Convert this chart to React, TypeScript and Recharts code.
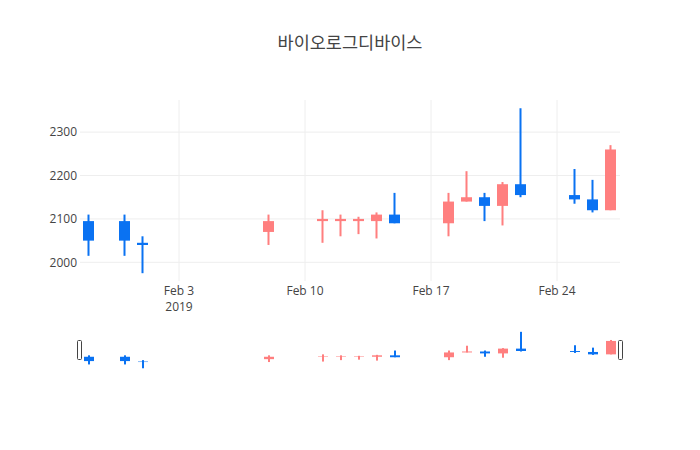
import React from 'react';
import { ComposedChart, Bar, XAxis, YAxis, CartesianGrid, Cell } from 'recharts';

const title = '바이오로그디바이스';

const dates = [
  '2019-01-29', '2019-01-31', '2019-02-01', '2019-02-08', '2019-02-11', '2019-02-12',
  '2019-02-13', '2019-02-14', '2019-02-15', '2019-02-18', '2019-02-19', '2019-02-20',
  '2019-02-21', '2019-02-22', '2019-02-25', '2019-02-26', '2019-02-27',
];
const opens = [2095, 2095, 2045, 2070, 2095, 2095, 2095, 2095, 2110, 2090, 2140, 2150, 2130, 2180, 2155, 2145, 2120];
const highs = [2110, 2110, 2060, 2110, 2120, 2110, 2105, 2115, 2160, 2160, 2210, 2160, 2185, 2355, 2215, 2190, 2270];
const lows = [2015, 2015, 1975, 2040, 2045, 2060, 2065, 2055, 2090, 2060, 2140, 2095, 2085, 2150, 2135, 2115, 2120];
const closes = [2050, 2050, 2040, 2095, 2100, 2100, 2100, 2110, 2090, 2140, 2150, 2130, 2180, 2155, 2145, 2120, 2260];

const xTickDates = ['2019-02-03', '2019-02-10', '2019-02-17', '2019-02-24'];
const xTickLabels = ['Feb 3', 'Feb 10', 'Feb 17', 'Feb 24'];
const xTickSubLabels = ['2019', '', '', ''];
const yTicks = [2000, 2100, 2200, 2300];
const yDomain = [1957, 2374];

const UP = '#FF7F7F';
const DOWN = '#0A72F2';
const FONT = '"Open Sans", "Noto Sans CJK KR", sans-serif';

const toDay = (s: string) => Date.parse(s + 'T00:00:00Z') / 86400000;

const data = dates.map((d, i) => ({
  t: toDay(d),
  wick: [lows[i], highs[i]],
  body: [Math.min(opens[i], closes[i]), Math.max(opens[i], closes[i])],
  up: closes[i] > opens[i],
}));

const xDomain = [toDay(dates[0]) - 0.5, toDay(dates[dates.length - 1]) + 0.5];
const xTickValues = xTickDates.map(toDay);

const WickShape = (props: any) => {
  const { x, y, width, height, payload } = props;
  const top = Math.min(y, y + height);
  const h = Math.abs(height);
  const cx = x + width / 2;
  return <rect x={cx - 1} y={top} width={2} height={h} fill={payload && payload.up ? UP : DOWN} />;
};

const XTick = (props: any) => {
  const { x, y, payload } = props;
  const i = xTickValues.findIndex((v) => Math.abs(v - payload.value) < 1e-6);
  if (i < 0) return null;
  return (
    <g>
      <text x={x} y={y - 16} textAnchor="middle" fill="#444" fontSize={12} fontFamily={FONT}>
        {xTickLabels[i]}
      </text>
      {xTickSubLabels[i] ? (
        <text x={x} y={y - 0.5} textAnchor="middle" fill="#444" fontSize={12} fontFamily={FONT}>
          {xTickSubLabels[i]}
        </text>
      ) : null}
    </g>
  );
};

const Candles = (barSize: number) => [
  <Bar key="w" dataKey="wick" xAxisId="w" yAxisId="y" barSize={barSize} shape={<WickShape />} isAnimationActive={false} />,
  <Bar key="b" dataKey="body" xAxisId="b" yAxisId="y" barSize={barSize} isAnimationActive={false}>
    {data.map((d, i) => (
      <Cell key={i} fill={d.up ? UP : DOWN} />
    ))}
  </Bar>,
];

export default function App() {
  return (
    <div style={{ position: 'absolute', left: 0, top: 0, width: 700, height: 450, background: '#fff', fontFamily: FONT }}>
      <svg width={700} height={80} style={{ position: 'absolute', left: 0, top: 0 }}>
        <text x={350} y={49} textAnchor="middle" fontSize={17.5} fill="#444" fontFamily={FONT}>
          {title}
        </text>
      </svg>
      <div style={{ position: 'absolute', left: 0, top: 0 }}>
        <ComposedChart width={700} height={330} data={data} margin={{ top: 100, right: 80, bottom: 9, left: 20 }}>
          <CartesianGrid stroke="#eee" xAxisId="w" yAxisId="y" syncWithTicks />
          <XAxis
            xAxisId="w"
            dataKey="t"
            type="number"
            domain={xDomain}
            ticks={xTickValues}
            height={40}
            axisLine={false}
            tickLine={false}
            tickSize={0}
            tickMargin={0}
            tick={<XTick />}
            allowDataOverflow
          />
          <XAxis xAxisId="b" dataKey="t" type="number" domain={xDomain} ticks={xTickValues} hide allowDataOverflow />
          <YAxis
            yAxisId="y"
            type="number"
            domain={yDomain}
            ticks={yTicks}
            width={60}
            axisLine={false}
            tickLine={false}
            tickSize={0}
            tickMargin={3}
            tick={{ fill: '#444', fontSize: 12, fontFamily: FONT }}
            allowDataOverflow
          />
          {Candles(11)}
        </ComposedChart>
      </div>
      <div style={{ position: 'absolute', left: 0, top: 330 }}>
        <ComposedChart width={700} height={40} data={data} margin={{ top: 0, right: 80, bottom: 0, left: 80 }}>
          <XAxis xAxisId="w" dataKey="t" type="number" domain={xDomain} ticks={xTickValues} hide allowDataOverflow />
          <XAxis xAxisId="b" dataKey="t" type="number" domain={xDomain} ticks={xTickValues} hide allowDataOverflow />
          <YAxis yAxisId="y" type="number" domain={yDomain} hide allowDataOverflow />
          {Candles(10)}
        </ComposedChart>
      </div>
      <svg width={700} height={450} style={{ position: 'absolute', left: 0, top: 0, pointerEvents: 'none' }}>
        <rect x={77.5} y={340.5} width={4} height={19} rx={1} ry={1} fill="#fff" stroke="#444" strokeWidth={1} />
        <rect x={618.5} y={340.5} width={4} height={19} rx={1} ry={1} fill="#fff" stroke="#444" strokeWidth={1} />
      </svg>
    </div>
  );
}
